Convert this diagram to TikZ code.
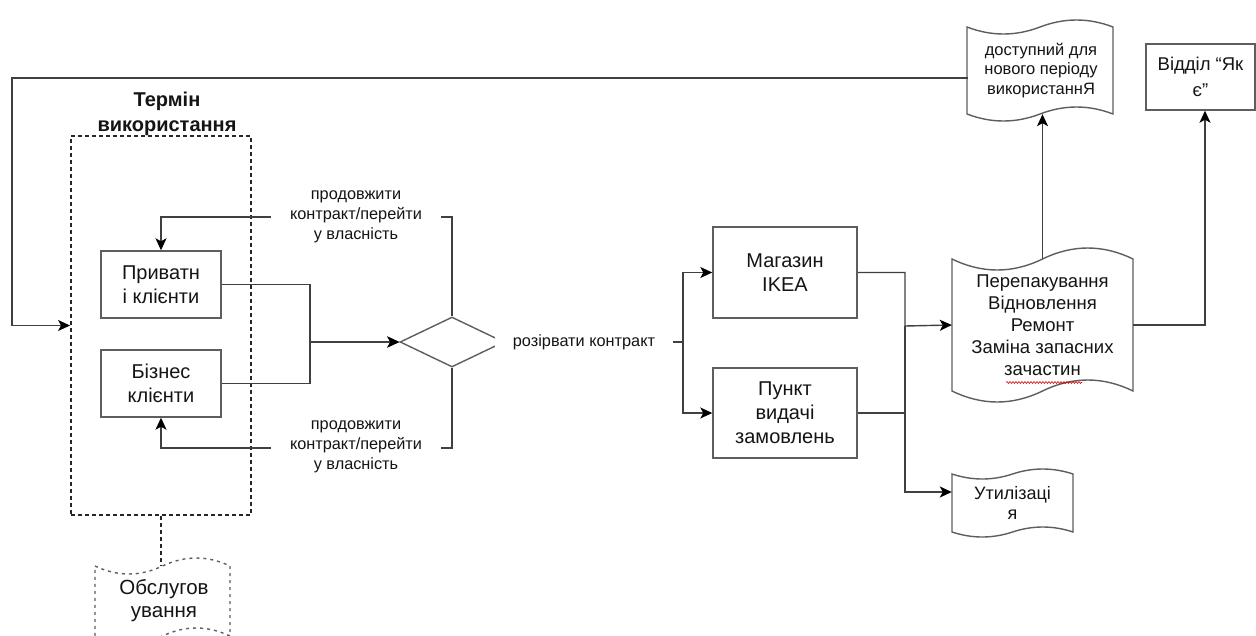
\documentclass[tikz,border=0pt]{standalone}
\usepackage{fontspec}
\setmainfont{Liberation Sans}
\usetikzlibrary{arrows.meta,shapes.geometric,decorations.pathmorphing,calc}

\definecolor{edge}{HTML}{404040}
\definecolor{frame}{HTML}{5E5E5E}
\definecolor{ink}{HTML}{141414}

\newcommand\fBody{\fontsize{20pt}{24pt}\selectfont}
\newcommand\fLabel{\fontsize{16.3pt}{20pt}\selectfont}
\newcommand\fTitle{\bfseries\fontsize{20pt}{25pt}\selectfont}
\newcommand\fRep{\fontsize{18.5pt}{22pt}\selectfont}
\newcommand\fSmall{\fontsize{16.5pt}{19.5pt}\selectfont}

% wavy "tape" outline: style, left x, top base, width, bottom base, amplitude
\newcommand\tapeshape[6]{%
  \draw[#1] (#2,#3)
    .. controls ({#2+#4/6},{#3+4*#6/3}) and ({#2+#4/3},{#3+4*#6/3}) .. ({#2+#4/2},#3)
    .. controls ({#2+2*#4/3},{#3-4*#6/3}) and ({#2+5*#4/6},{#3-4*#6/3}) .. ({#2+#4},#3)
    -- ({#2+#4},#5)
    .. controls ({#2+5*#4/6},{#5-4*#6/3}) and ({#2+2*#4/3},{#5-4*#6/3}) .. ({#2+#4/2},#5)
    .. controls ({#2+#4/3},{#5+4*#6/3}) and ({#2+#4/6},{#5+4*#6/3}) .. (#2,#5) -- cycle;}

\tikzset{
  box/.style={draw=frame, line width=1.4pt, fill=white, inner sep=0pt, align=center, font=\fBody, text=ink},
  holder/.style={inner sep=0pt, align=center, text=ink},
  conn/.style={draw=edge, line width=1.4pt, -{Stealth[length=12pt,width=11pt,inset=3pt,color=black]}},
  plainline/.style={draw=edge, line width=1.4pt},
  lbl/.style={fill=white, align=center, font=\fLabel, inner sep=0pt, text=ink},
  tapeline/.style={draw=frame, line width=1.4pt, fill=white},
  dashtape/.style={draw=frame, line width=1.4pt, fill=white, dash pattern=on 3pt off 4pt},
  container/.style={draw=black!85, line width=1.9pt, dash pattern=on 4pt off 3pt, inner sep=0pt},
}

\begin{document}
\begin{tikzpicture}[x=1pt,y=-1pt]
\useasboundingbox (0,0) rectangle (1256,635);

% usage-term container
\node[container, minimum width=180pt, minimum height=379pt] (cont) at (161,325.5) {};
\node[holder, font=\fTitle] (title) at (167,114) {Термін\\використання};

% clients
\node[box, minimum width=120pt, minimum height=67pt] (priv) at (161,284.5) {Приватн\\і клієнти};
\node[box, minimum width=120pt, minimum height=67pt] (biz) at (161,383.5) {Бізнес\\клієнти};

% decision
\node[draw=frame, line width=1.4pt, diamond, minimum width=104pt, minimum height=50pt, inner sep=0pt] (dia) at (452,342) {};

% return points
\node[box, minimum width=144pt, minimum height=91pt] (ikea) at (785,272.5) {Магазин\\IKEA};
\node[box, minimum width=144pt, minimum height=90pt] (punkt) at (785,413) {Пункт\\видачі\\замовлень};

% wavy documents
\tapeshape{tapeline}{952}{259}{181}{391}{11}
\node[holder, font=\fRep, minimum width=181pt, minimum height=132pt] (repack) at (1042.5,325) {Перепакування\\Відновлення\\Ремонт\\Заміна запасних\\зачастин};
\draw[red!85!black, line width=0.6pt, decorate, decoration={snake, amplitude=0.9pt, segment length=3pt}] (1006,382.5) -- (1082,382.5);

\tapeshape{tapeline}{967}{27}{146}{114}{7}
\node[holder, font=\fSmall, minimum width=146pt, minimum height=87pt] (dost) at (1041,70.5) {доступний для\\нового періоду\\використаннЯ};

\tapeshape{tapeline}{952}{474}{121}{532}{5}
\node[holder, font=\fontsize{18pt}{20pt}\selectfont, minimum width=121pt, minimum height=58pt] (util) at (1012.5,503) {Утилізаці\\я};

\tapeshape{dashtape}{95}{566}{135}{636}{8}
\node[holder, font=\fontsize{20.5pt}{23pt}\selectfont, minimum width=135pt, minimum height=70pt] (obsl) at (164,601) {Обслугов\\ування};

\node[box, font=\fontsize{18.5pt}{26pt}\selectfont, minimum width=109pt, minimum height=66pt] (otdel) at (1200.5,77) {Відділ “Як\\є”};

% junction points
\coordinate (m1) at (310,342);
\coordinate (s1) at (683,342);
\coordinate (j1) at (905,326);
\coordinate (lp) at (12,325.5);

% connectors
\draw[conn] (priv.east) -| (m1) -- (dia.west);
\draw[conn] (biz.east) -| (m1) -- (dia.west);
\draw[conn] (dia.north) |- (priv.north |- 0,217) -- (priv.north);
\draw[conn] (dia.south) |- (biz.south |- 0,448) -- (biz.south);
\draw[plainline] (dia.east) -- (s1);
\draw[conn] (s1) |- (ikea.west);
\draw[conn] (s1) |- (punkt.west);
\draw[conn] (ikea.east) -| (j1) -- (repack.west);
\draw[plainline] (punkt.east) -| (j1);
\draw[conn] (j1) |- ($(util.west)+(0,-11)$);
\draw[conn] (repack.north) -- (repack.north |- dost.south);
\draw[conn] (repack.east) -| ($(otdel.south)+(4.5,0)$);
\draw[conn] ($(dost.west)+(0,7.5)$) -| (lp) -- (cont.west);
\draw[draw=black!85, line width=1.9pt, dash pattern=on 4pt off 3pt] (cont.south) -- (cont.south |- 0,566);

% connector labels
\node[lbl, minimum width=170pt, minimum height=58pt] (lblup) at (356,217) {продовжити\\контракт/перейти\\у власність};
\node[lbl, minimum width=170pt, minimum height=58pt] (lbldn) at (356,447) {продовжити\\контракт/перейти\\у власність};
\node[lbl, minimum width=178pt, minimum height=22pt] (lblmid) at (584,342) {розірвати контракт};
\end{tikzpicture}
\end{document}
